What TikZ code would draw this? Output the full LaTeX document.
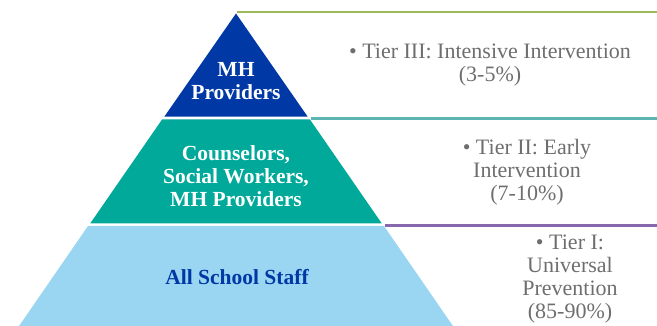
\documentclass[tikz,border=0pt]{standalone}
\usepackage{fontspec}
\setmainfont{Liberation Serif}
\usetikzlibrary{positioning,calc}
\definecolor{tierthree}{HTML}{0039A6}
\definecolor{tiertwo}{HTML}{00A99A}
\definecolor{tierone}{HTML}{9AD5F1}
\definecolor{lineone}{HTML}{9BBB59}
\definecolor{linetwo}{HTML}{5DB5B1}
\definecolor{linethree}{HTML}{8868AC}
\definecolor{desctext}{HTML}{6E6E6E}
\tikzset{
  tierlabel/.style={align=center,inner sep=0pt,text=white,font=\bfseries\fontsize{21.5}{23}\selectfont},
  tierdesc/.style={align=center,inner sep=0pt,text=desctext,font=\fontsize{22}{23}\selectfont},
  tierrule/.style={line width=2.7pt}
}
\begin{document}
\begin{tikzpicture}[x=1pt,y=-1pt]
\useasboundingbox (0,0) rectangle (657,326);
\clip (0,0) rectangle (657,326);
% pyramid
\fill[tierthree] (236,13.5) -- (307.7,116.7) -- (164.3,116.7) -- cycle;
\fill[tiertwo] (162.2,119.3) -- (309.8,119.3) -- (381.7,223.3) -- (90.3,223.3) -- cycle;
\fill[tierone] (88,226) -- (384,226) -- (462.6,340) -- (9.4,340) -- cycle;
% rules
\draw[tierrule,lineone] (237,12) -- (657,12);
\draw[tierrule,linetwo] (311,118.5) -- (657,118.5);
\draw[tierrule,linethree] (385,225.3) -- (657,225.3);
\node[tierlabel] (mh) at (236,81) {MH\\Providers};
\node[tierlabel] (counsel) at (236,176) {Counselors,\\Social Workers,\\MH Providers};
\node[tierlabel,text=tierthree] (staff) at (237,277) {All School Staff};
\node[tierdesc] (tier3) at (490,65) {• Tier III: Intensive Intervention\\(3-5\%)};
\node[tierdesc] (tier2) at (527,172) {• Tier II: Early\\Intervention\\(7-10\%)};
\node[tierdesc] (tier1) at (570,279) {• Tier I:\\Universal\\Prevention\\(85-90\%)};
\end{tikzpicture}
\end{document}
